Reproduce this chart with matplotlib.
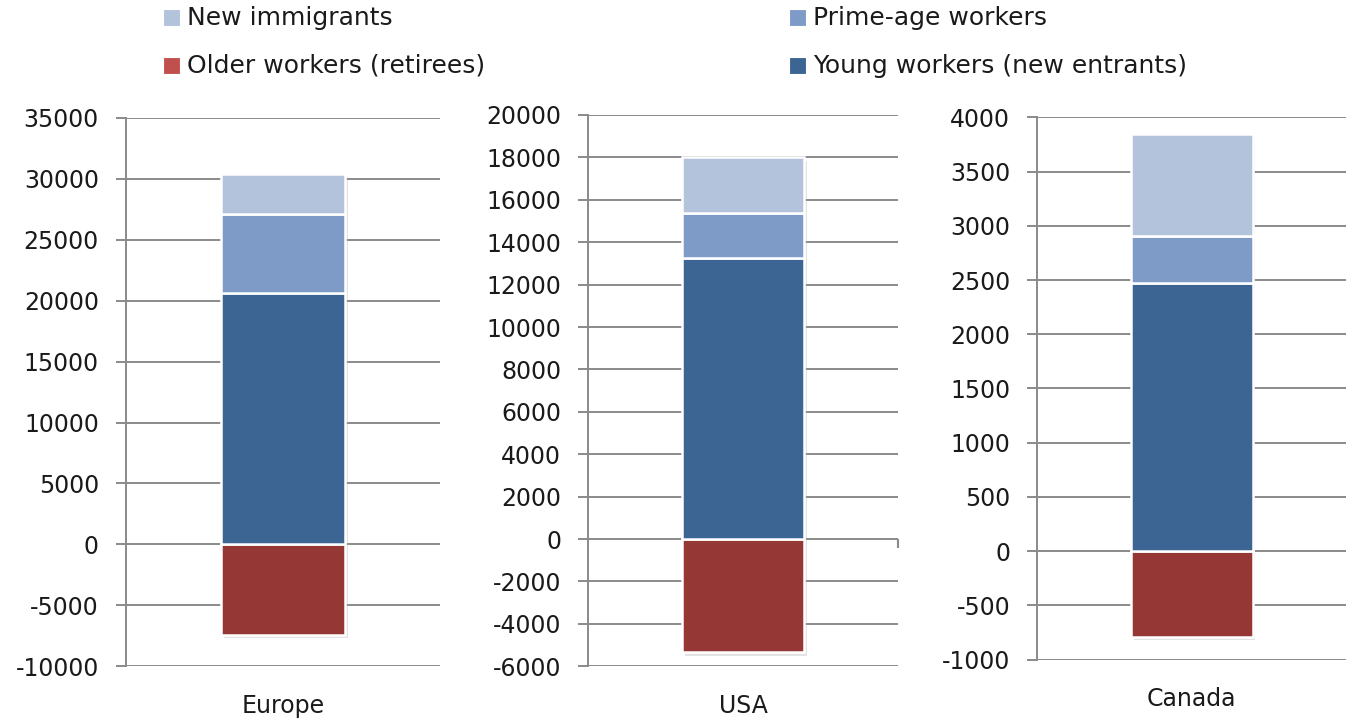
import matplotlib.pyplot as plt
import matplotlib.patheffects as pe
from matplotlib.patches import Rectangle

plt.rcParams["axes.unicode_minus"] = False

# labour-force flows by region (thousands)
regions = ["Europe", "USA", "Canada"]
older_workers = [-7400, -5350, -790]
young_workers = [20600, 13250, 2470]
prime_age = [6500, 2150, 440]
new_immigrants = [3300, 2600, 940]

y_limits = [(-10000, 35000), (-6000, 20000), (-1000, 4000)]
y_steps = [5000, 2000, 500]

c_immig = "#B4C3DC"
c_prime = "#7E9BC7"
c_young = "#3D6594"
c_older = "#953735"
c_older_key = "#C0504D"
grid_col = "#8A8A8A"
text_col = "#1A1A1A"

fig = plt.figure(figsize=(13.46, 7.21), dpi=100)

# axes boxes: left, bottom, width, height in figure fractions
boxes = [
    (0.0936, 0.0759, 0.2333, 0.7607),
    (0.4371, 0.0759, 0.2301, 0.7646),
    (0.7707, 0.0852, 0.2293, 0.7520),
]

shadow = [pe.SimplePatchShadow(offset=(2, -2.5), shadow_rgbFace="#B0B0B0", alpha=0.35),
          pe.Normal()]

for i, box in enumerate(boxes):
    ax = fig.add_axes(box)
    x = [0]
    w = 0.395
    bar_kw = dict(width=w, edgecolor="white", linewidth=1.8, zorder=3)
    ax.bar(x, [older_workers[i]], color=c_older, path_effects=shadow, **bar_kw)
    # shadow for the whole positive stack, drawn behind the segments
    top = young_workers[i] + prime_age[i] + new_immigrants[i]
    ax.bar(x, [top], width=w, color="white", linewidth=0, zorder=2.5, path_effects=shadow)
    ax.bar(x, [young_workers[i]], color=c_young, **bar_kw)
    ax.bar(x, [prime_age[i]], bottom=[young_workers[i]], color=c_prime, **bar_kw)
    ax.bar(x, [new_immigrants[i]], bottom=[young_workers[i] + prime_age[i]],
           color=c_immig, **bar_kw)

    lo, hi = y_limits[i]
    ax.set_ylim(lo, hi)
    ax.set_xlim(-0.5, 0.5)
    ax.set_yticks(range(lo, hi + 1, y_steps[i]))
    ax.set_xticks([0])
    ax.set_xticklabels([regions[i]])

    ax.grid(axis="y", color=grid_col, linewidth=1.4)
    ax.set_axisbelow(True)
    for side in ("top", "right", "bottom"):
        ax.spines[side].set_visible(False)
    ax.spines["left"].set_color(grid_col)
    ax.spines["left"].set_linewidth(1.4)
    ax.tick_params(axis="y", length=7.5, width=1.4, color=grid_col, pad=12,
                   labelsize=17, labelcolor=text_col)
    ax.tick_params(axis="x", length=0, pad=20, labelsize=17, labelcolor=text_col)

    if regions[i] == "USA":
        # category-axis end tick crossing at zero
        ax.vlines(0.5, -0.016 * (hi - lo), 0, color=grid_col, linewidth=1.5,
                  clip_on=False)

# legend keys
W, H = 1346, 721
legend_items = [
    ("New immigrants", c_immig, 163, 18),
    ("Prime-age workers", c_prime, 789, 18),
    ("Older workers (retirees)", c_older_key, 163, 66),
    ("Young workers (new entrants)", c_young, 789, 66),
]
for label, col, px, py in legend_items:
    fig.patches.append(Rectangle(((px) / W, 1 - (py + 8) / H), 17 / W, 17 / H,
                                 transform=fig.transFigure, facecolor=col,
                                 edgecolor="white", linewidth=0.8))
    fig.text((px + 24) / W, 1 - py / H, label, fontsize=18, color=text_col,
             va="center", ha="left")

fig.savefig("out.png", dpi=100)
